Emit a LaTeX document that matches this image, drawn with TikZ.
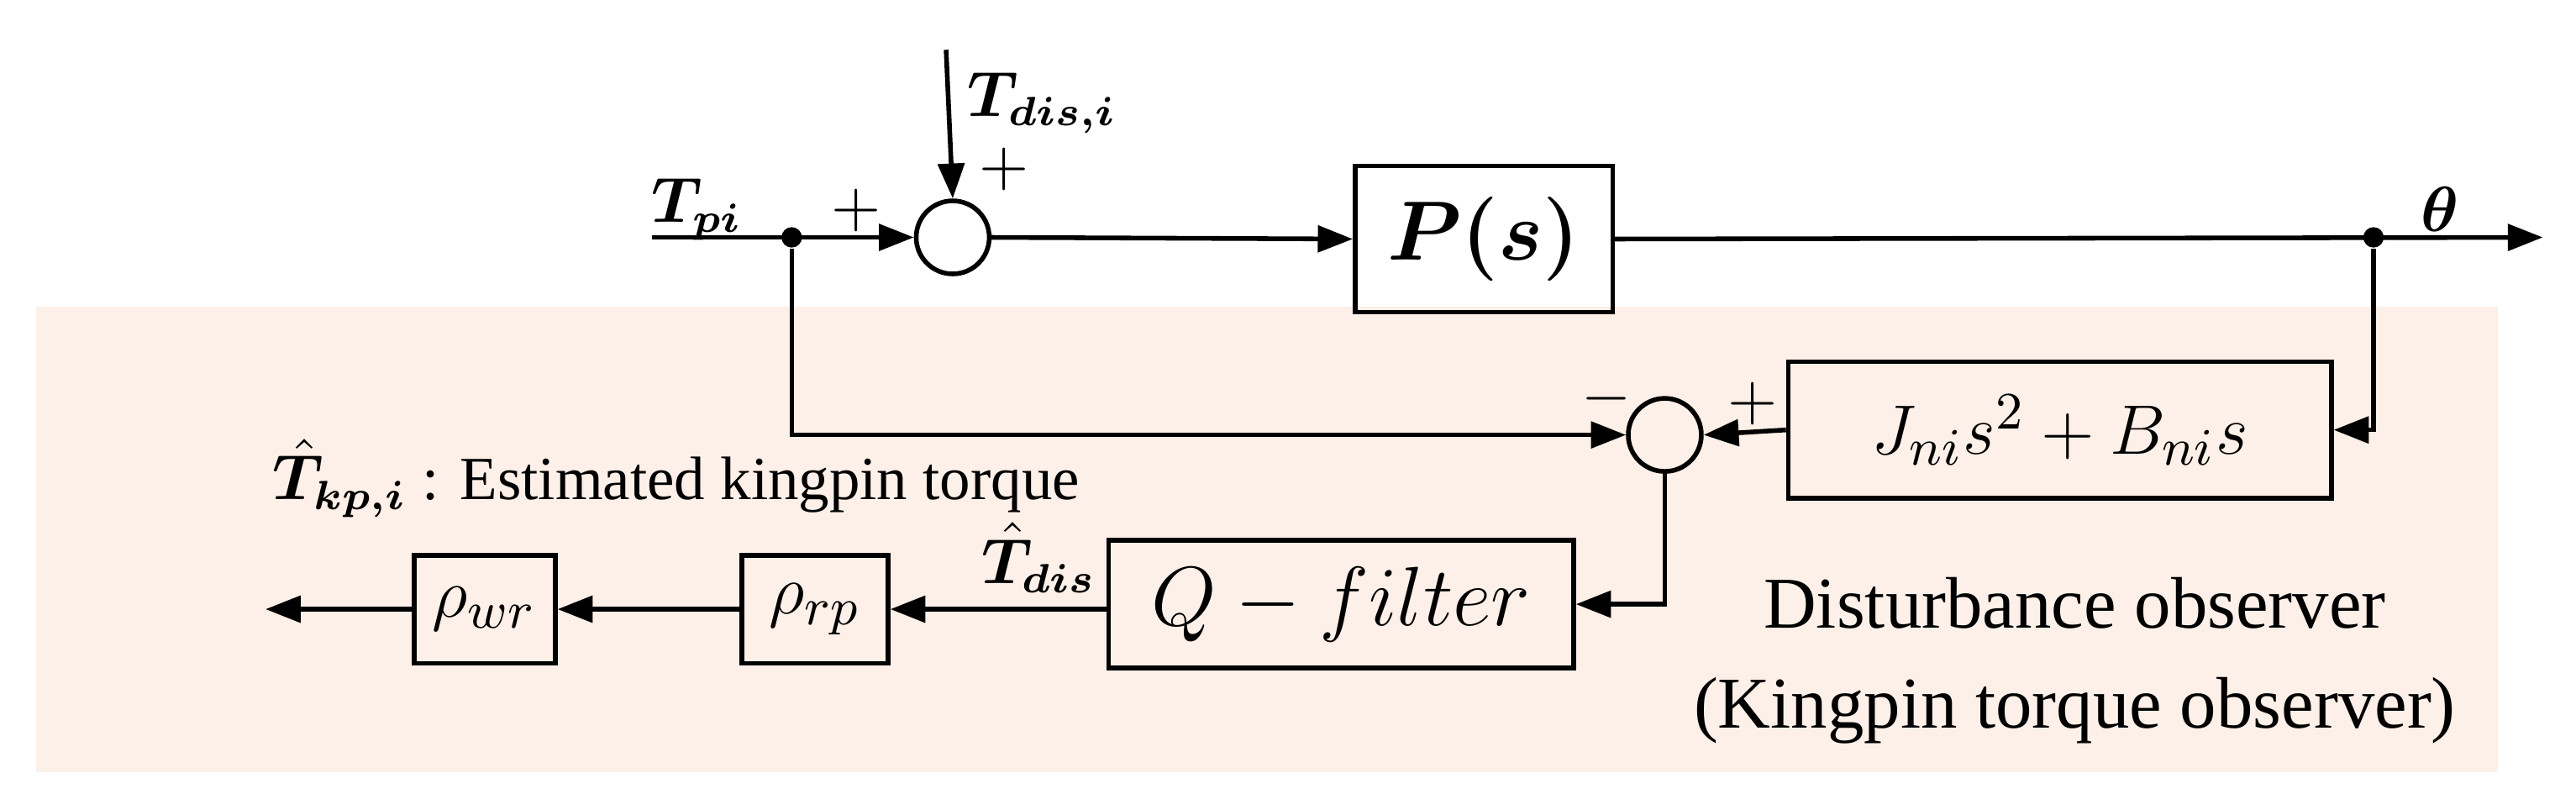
\documentclass[tikz,border=0pt]{standalone}
\usepackage{amsmath,bm}
\usepackage{fontspec}
\setmainfont{Liberation Serif}
\usetikzlibrary{arrows.meta}
\definecolor{peach}{HTML}{FCF0E8}
\begin{document}
\begin{tikzpicture}[x=0.01cm,y=-0.01cm,
  blk/.style={draw,line width=0.8pt,inner sep=0pt},
  sum/.style={draw,circle,line width=0.8pt,minimum size=0.44cm,inner sep=0pt},
  ar/.style={-{Triangle[length=6pt,width=4.5pt]},line width=0.8pt},
  dot/.style={circle,fill,inner sep=0pt,minimum size=3.5pt},
  font=\fontsize{10.5}{12}\selectfont]
\useasboundingbox (0,0) rectangle (1552,478);
\fill[peach] (22,185) rectangle (1505,465);
\node[sum] (s1) at (574,143) {};
\node[sum] (s2) at (1003,262) {};
\node[blk,minimum width=1.55cm,minimum height=0.88cm] (P) at (894,144) {\fontsize{14}{16}\selectfont$\bm{P(s)}$};
\node[blk,minimum width=3.27cm,minimum height=0.82cm] (J) at (1241,259) {\fontsize{13}{15}\selectfont$J_{ni}s^2+B_{ni}s$};
\node[blk,minimum width=2.8cm,minimum height=0.77cm] (Q) at (808,364) {\fontsize{14.5}{16}\selectfont$Q-filter$};
\node[blk,minimum width=0.88cm,minimum height=0.65cm] (rp) at (491,367) {\fontsize{13}{15}\selectfont$\rho_{rp}$};
\node[blk,minimum width=0.85cm,minimum height=0.65cm] (wr) at (292,367) {\fontsize{13}{15}\selectfont$\rho_{wr}$};
\coordinate (in) at (393,143);
\node[dot] (b1) at (477,143) {};
\node[dot] (b2) at (1430,143) {};
\coordinate (out) at (1532,143);
\coordinate (dtop) at (570,30);
\coordinate (wend) at (160,367);
\draw[ar] (in) -- (s1.west);
\draw[ar] (dtop) -- (s1.north);
\draw[ar] (s1.east) -- (P.west);
\draw[ar] (P.east) -- (out);
\draw[ar] (b2) |- (J.east);
\draw[ar] (J.west) -- (s2.east);
\draw[ar] (b1) |- (s2.west);
\draw[ar] (s2.south) |- (Q.east);
\draw[ar] (Q.west |- rp.east) -- (rp.east);
\draw[ar] (rp.west) -- (wr.east);
\draw[ar] (wr.west) -- (wend);
\node (tpi) at (420,126) {$\bm{T_{pi}}$};
\node (tdis) at (628,62) {$\bm{T_{dis,i}}$};
\node (p1) at (516,127) {$+$};
\node (p2) at (605,102) {$+$};
\node (theta) at (1470,126) {$\bm{\theta}$};
\node (p3) at (1056,243) {$+$};
\node (m1) at (968,240) {$-$};
\node (that) at (626,336) {$\bm{\hat{T}_{dis}}$};
\node[anchor=west] (est) at (152,288) {$\bm{\hat{T}_{kp,i}}$ : Estimated kingpin torque};
\node[align=center,font=\fontsize{12.5}{17}\selectfont] (dob) at (1250,398) {Disturbance observer\\(Kingpin torque observer)};
\end{tikzpicture}
\end{document}
